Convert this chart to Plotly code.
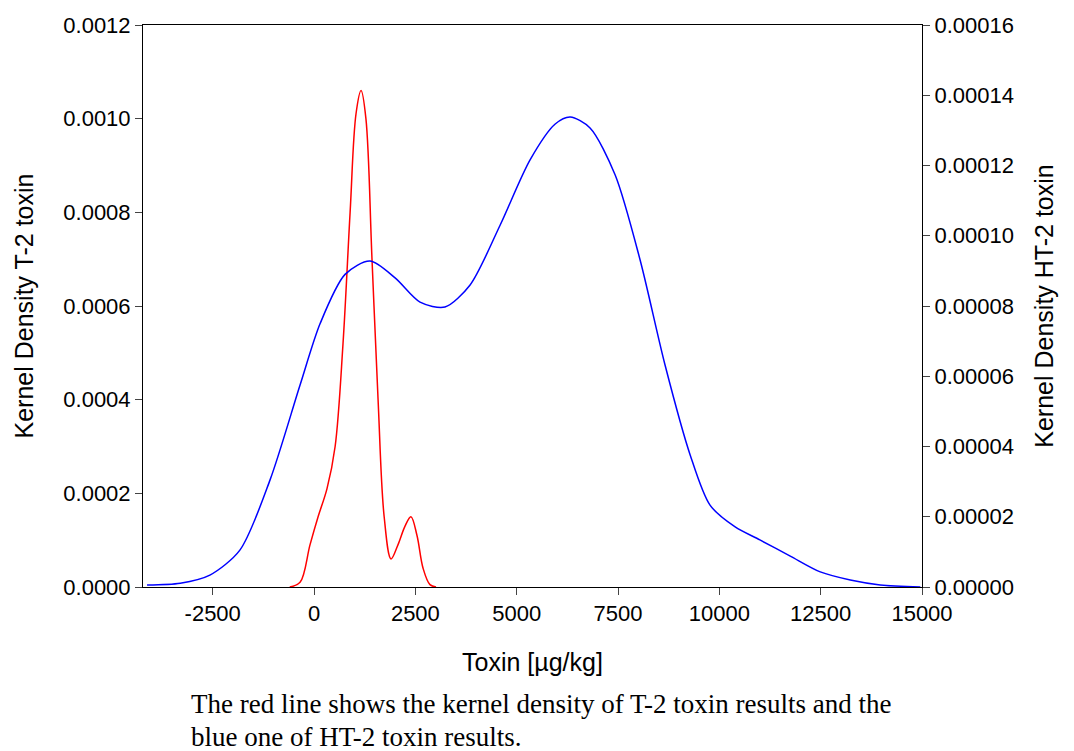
import plotly.graph_objects as go

red_x = [-600,-345,-100,100,320,520,715,890,1035,1160,1280,1430,1580,1730,1900,2070,2245,2390,2540,2690,2860,3010]
red_y = [0,0.00001,0.00009,0.00015,0.00021,0.0003,0.00052,0.0008,0.00101,0.00106,0.001,0.0007,0.0004,0.00015,0.00006,0.00009,0.00013,0.00015,0.00011,0.00004,0.000005,0]

blue_x = [-4120,-3300,-2570,-1830,-1085,-345,150,765,1380,2000,2615,3230,3850,4590,5330,5950,6320,6810,7430,8045,8660,9280,9770,10390,11000,11750,12490,13230,13970,14960]
blue_y = [6e-7,1.1e-6,3.4e-6,1.05e-5,3.05e-5,5.75e-5,7.5e-5,8.9e-5,9.28e-5,8.8e-5,8.11e-5,7.97e-5,8.6e-5,1.03e-4,1.216e-4,1.318e-4,1.338e-4,1.307e-4,1.173e-4,9.31e-5,6.32e-5,3.76e-5,2.33e-5,1.71e-5,1.34e-5,8.8e-6,4.3e-6,2e-6,6e-7,0]

x_ticks = [-2500,0,2500,5000,7500,10000,12500,15000]
y1_ticks = [0,0.0002,0.0004,0.0006,0.0008,0.0010,0.0012]
y2_ticks = [0,0.00002,0.00004,0.00006,0.00008,0.00010,0.00012,0.00014,0.00016]

fig = go.Figure()
fig.add_trace(go.Scatter(x=blue_x, y=blue_y, mode="lines", line=dict(color="blue", width=1.5, shape="spline", smoothing=0.8), yaxis="y2"))
fig.add_trace(go.Scatter(x=red_x, y=red_y, mode="lines", line=dict(color="red", width=1.5, shape="spline")))

font = dict(family="Liberation Sans, Arial", size=22, color="black")
fig.update_layout(
    width=1066, height=743, paper_bgcolor="white", plot_bgcolor="white",
    showlegend=False, font=font,
    margin=dict(l=135, r=152, t=17, b=164, autoexpand=False),
    xaxis=dict(range=[-4220, 15000], tickvals=x_ticks, ticktext=[str(v) for v in x_ticks],
               showline=True, linecolor="black", mirror=True, ticks="outside", ticklen=7,
               showgrid=False, zeroline=False, automargin=False,
               title=dict(text="Toxin [µg/kg]", font=dict(size=25), standoff=28)),
    yaxis=dict(range=[0, 0.0012], tickvals=y1_ticks, ticktext=[f"{v:.4f}" for v in y1_ticks],
               showline=True, linecolor="black", ticks="outside", ticklen=7,
               showgrid=False, zeroline=False, automargin=False,
               title=dict(text="Kernel Density T-2 toxin", font=dict(size=25), standoff=22)),
    yaxis2=dict(range=[0, 0.00016], tickvals=y2_ticks, ticktext=[f"{v:.5f}" for v in y2_ticks],
                overlaying="y", side="right", showline=True, linecolor="black", ticks="outside", ticklen=7,
                showgrid=False, zeroline=False, automargin=False,
                title=dict(text="Kernel Density HT-2 toxin", font=dict(size=25), standoff=22)),
)
cap_font = dict(family="Liberation Serif, Times New Roman", size=27, color="black")
fig.add_annotation(xref="paper", yref="paper", x=(189-143)/779, y=-(704-587)/562, xanchor="left", yanchor="middle",
                   text="The red line shows the kernel density of T-2 toxin results and the", showarrow=False, font=cap_font)
fig.add_annotation(xref="paper", yref="paper", x=(189-143)/779, y=-(737-587)/562, xanchor="left", yanchor="middle",
                   text="blue one of HT-2 toxin results.", showarrow=False, font=cap_font)
fig.write_html("out.html")
